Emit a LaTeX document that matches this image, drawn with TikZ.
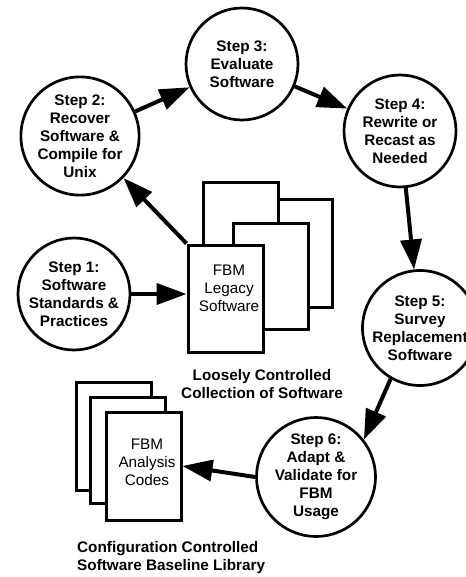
\documentclass[tikz,border=0pt]{standalone}
\usepackage{fontspec}
\setmainfont{Liberation Sans}
\usetikzlibrary{arrows.meta}

\newcommand{\boxfont}{\fontsize{15.3}{18}\selectfont}
\newcommand{\stepfont}{\fontsize{15.3}{18}\selectfont\bfseries}

\tikzset{
  stepnode/.style={circle, draw, line width=2.7pt, minimum size=112pt, inner sep=0pt, align=center, font=\stepfont},
  page/.style={draw, fill=white, line width=3pt, minimum width=75pt, minimum height=108pt, inner sep=0pt},
  flow/.style={line width=4pt, -{Triangle[length=30pt,width=21pt]}},
  caption/.style={align=center, font=\stepfont, inner sep=0pt}
}

\begin{document}
\begin{tikzpicture}[x=1pt,y=-1pt]
\useasboundingbox (0,0) rectangle (465,577);
% steps
\node[stepnode] (s1) at (74,294) {Step 1:\\Software\\Standards \&\\Practices};
\node[stepnode] (s2) at (80,136) {Step 2:\\Recover\\Software \&\\Compile for\\Unix};
\node[stepnode] (s3) at (242,64) {Step 3:\\Evaluate\\Software};
\node[stepnode] (s4) at (400,131) {Step 4:\\Rewrite or\\Recast as\\Needed};
\node[stepnode] (s5) at (420,328) {Step 5:\\Survey\\Replacement\\Software};
\node[stepnode] (s6) at (316,477) {Step 6:\\Adapt \&\\Validate for\\FBM\\Usage};
% legacy software pages
\node[page] (legacyb) at (294.5,253) {};
\node[page] (legacya) at (240.5,237) {};
\node[page, minimum height=106pt] (legacyc) at (270.5,276) {};
\node[page, minimum height=107pt] (legacy) at (225.5,298.5) {};
\node[align=center, font=\boxfont] (legacytext) at (229,288) {FBM\\Legacy\\Software};
\node[caption] (loose) at (262,384) {Loosely Controlled\\Collection of Software};
% analysis code pages
\node[page] (codesa) at (113.5,436.5) {};
\node[page, minimum height=106pt] (codesb) at (128,450.5) {};
\node[page] (codes) at (143.5,466) {};
\node[align=center, font=\boxfont] (codestext) at (147,462) {FBM\\Analysis\\Codes};
\node[caption, anchor=west, align=left] (baseline) at (77,558) {Configuration Controlled\\Software Baseline Library};
% flow
\draw[flow] (s1.east) -- (s1.east -| legacy.west);
\draw[flow] (legacy.north west) -- (s2.316);
\draw[flow] (s2) -- (s3);
\draw[flow] (s3) -- (s4);
\draw[flow] (s4) -- (s5);
\draw[flow] (s5.240) -- (s6.38);
\draw[flow] (s6.west) -- (codes.east);
\end{tikzpicture}
\end{document}
